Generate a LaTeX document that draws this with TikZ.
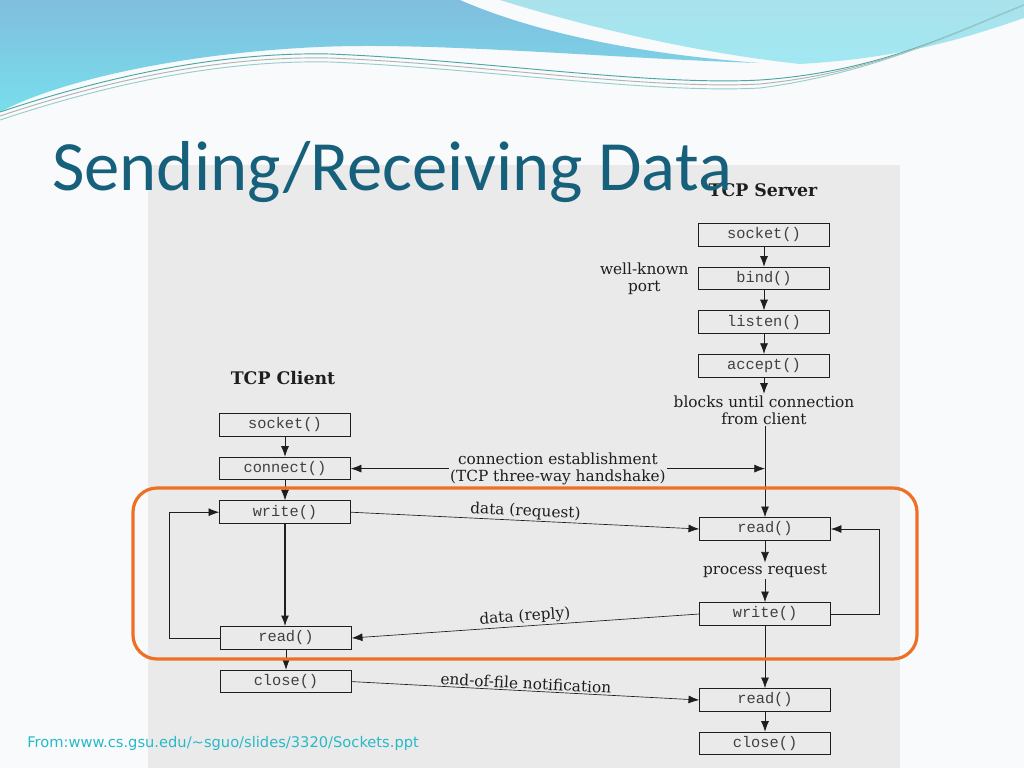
\documentclass[tikz,border=0pt]{standalone}
\usepackage{fontspec}
\setmainfont{DejaVu Serif}
\newfontfamily\titlefont{Carlito}
\newfontfamily\codefont{Liberation Mono}
\newfontfamily\notefont{DejaVu Sans}
\usetikzlibrary{arrows.meta,positioning,calc}
\definecolor{slidebg}{RGB}{248,250,251}
\definecolor{scangrey}{RGB}{234,234,234}
\definecolor{titleteal}{RGB}{22,96,124}
\definecolor{hlorange}{RGB}{238,112,36}
\definecolor{waveblue}{RGB}{128,190,222}
\definecolor{wavecyan}{RGB}{120,222,236}
\definecolor{wavelight}{RGB}{170,226,236}
\definecolor{footcyan}{RGB}{40,185,200}
\definecolor{ink}{RGB}{30,30,30}

\begin{document}
\begin{tikzpicture}[x=0.75pt,y=-0.75pt,node distance=15pt and 15pt]

\tikzset{fnbox/.style={draw=ink,line width=0.7pt,fill=scangrey,font=\codefont\fontsize{11.5}{13}\selectfont,text=ink!85,minimum width=98pt,minimum height=17pt,inner sep=0pt},
lbl/.style={font=\fontsize{11.5}{13}\selectfont,text=ink,inner sep=1pt},
head/.style={font=\bfseries\fontsize{13}{15}\selectfont,text=ink},
flow/.style={draw=ink,line width=0.6pt,-{Latex[length=8pt,width=6pt]}},
msgline/.style={draw=ink,line width=0.5pt,-{Latex[length=8pt,width=6pt]}},
msgback/.style={draw=ink,line width=0.5pt,{Latex[length=8pt,width=6pt]}-}}

% Slide background
\fill[slidebg] (0,0) rectangle (1024,768);
\useasboundingbox (0,0) rectangle (1024,768);

% Waves
\shade[top color=waveblue,bottom color=wavecyan] (0,0) -- (460,0) .. controls (540,35) and (650,55) .. (760,63) .. controls (600,58) and (420,40) .. (300,48) .. controls (180,55) and (60,80) .. (0,112) -- cycle;
\shade[top color=wavelight,bottom color=wavecyan!70!white] (500,0) -- (1024,0) -- (1024,18) .. controls (960,40) and (900,58) .. (800,64) .. controls (690,52) and (580,25) .. (500,0) -- cycle;
\foreach \dy/\col in {0/teal!70, 4/gray!60, 8/teal!40} \draw[\col,line width=0.7pt] (0,112+\dy) .. controls (120,72+\dy) and (230,52+\dy) .. (330,54+\dy) .. controls (480,60+\dy) and (650,86+\dy) .. (760,80+\dy) .. controls (880,72) and (960,30) .. (1024,5);

% Scanned figure
\fill[scangrey] (148,165) rectangle (900,768);

% Server side
\node[head] (srvtitle) at (763,190) {TCP Server};
\node[fnbox] (ssocket) at (764,235) {socket()};
\node[fnbox,below=of ssocket] (sbind) {bind()};
\node[fnbox,below=of sbind] (slisten) {listen()};
\node[fnbox,below=of slisten] (saccept) {accept()};
\node[lbl,align=center,left=6pt of sbind] (wkport) {well-known\\port};
\node[lbl,align=center] (blocks) at (764,410) {blocks until connection\\from client};
\node[fnbox] (sread) at (765,529) {read()};
\node[lbl] (proc) at (765,571) {process request};
\node[fnbox] (swrite) at (765,614) {write()};
\node[fnbox] (sread2) at (765,700) {read()};
\node[fnbox,below=of sread2] (sclose) {close()};

% Client side
\node[head] (clititle) at (283,378) {TCP Client};
\node[fnbox] (csocket) at (285,425) {socket()};
\node[fnbox,below=of csocket] (cconnect) {connect()};
\node[fnbox,below=of cconnect] (cwrite) {write()};
\node[fnbox] (cread) at (286,638) {read()};
\node[fnbox,below=of cread] (cclose) {close()};

% Edges
\foreach \a/\b in {ssocket/sbind, sbind/slisten, slisten/saccept, saccept/blocks, swrite/sread2, sread2/sclose, csocket/cconnect, cconnect/cwrite, cread/cclose} \draw[flow] (\a) -- (\b);
\draw[flow] (blocks.south -| sread.north) -- (sread.north);
\draw[flow] (sread.south) -- (sread.south |- proc.north);
\draw[flow] (swrite.north |- proc.south) -- (swrite.north);
\draw[flow,line width=1.1pt] (cwrite.south) -- (cwrite.south |- cread.north);
\draw[flow] (swrite.east) -- ++(49,0) |- (sread.east);
\draw[flow] (cread.west) -- ++(-51,0) |- (cwrite.west);

% Messages
\coordinate (sjoin) at (cconnect.east -| sread.north);
\draw[draw=ink,line width=0.5pt,{Latex[length=8pt,width=6pt]}-{Latex[length=8pt,width=6pt]}] (cconnect.east) -- node[lbl,fill=scangrey,align=center] {connection establishment\\(TCP three-way handshake)} (sjoin);
\draw[msgline] (cwrite.east) -- node[lbl,above,sloped] {data (request)} (sread.west);
\draw[msgback] (cread.east) -- node[lbl,above,sloped] {data (reply)} (swrite.west);
\draw[msgline] (cclose.east) -- node[lbl,above,sloped] {end-of-file notification} (sread2.west);

% Highlight
\draw[hlorange,line width=2.4pt,rounded corners=18pt] (133,488) rectangle (917,659);

% Title and source
\node[anchor=base west,font=\titlefont\fontsize{53}{60}\selectfont,text=titleteal,inner sep=0pt] (title) at (52,190) {Sending/Receiving Data};
\node[anchor=base west,font=\notefont\fontsize{11}{13}\selectfont,text=footcyan,inner sep=0pt] (source) at (27,747) {From:www.cs.gsu.edu/\textasciitilde sguo/slides/3320/Sockets.ppt};

\end{tikzpicture}
\end{document}
